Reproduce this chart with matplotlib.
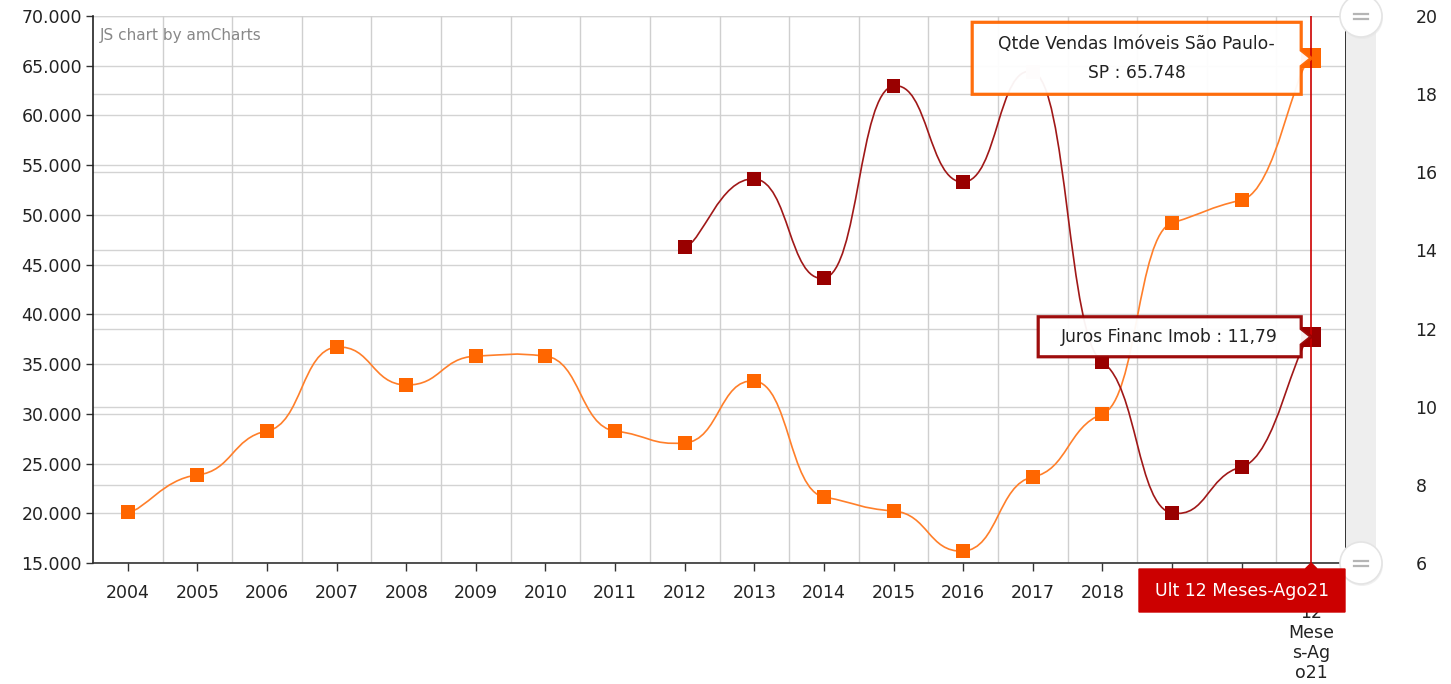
import numpy as np
import matplotlib
matplotlib.use("Agg")
import matplotlib.pyplot as plt
from matplotlib.path import Path
from matplotlib.patches import PathPatch, Polygon, Rectangle, Circle
from matplotlib.transforms import blended_transform_factory

categories = [str(y) for y in range(2004, 2021)] + ["Ult 12 Meses-Ago21"]
cat_labels = [str(y) for y in range(2004, 2021)] + ["Ult\n12\nMese\ns-Ag\no21"]

vendas = [20100, 23850, 28270, 36700, 32900, 35800, 35800, 28270, 27070,
          33300, 21640, 20230, 16200, 23650, 29980, 49190, 51500, 65748]
juros_start = 8  # first year with data: 2012
juros = [14.09, 15.83, 13.29, 18.21, 15.75, 18.57, 11.14, 7.28, 8.46, 11.79]

left_ticks = list(range(15000, 70001, 5000))
right_ticks = list(range(6, 21, 2))

ORANGE = "#FF6600"
ORANGE_LINE = "#FF7F2A"
DARKRED = "#990000"
CURSOR = "#CC0000"
W, H = 1451, 684


def smooth_path(xs, ys, bx=4.0, by=20.0):
    # amCharts-style bezier: wide horizontal handles, short vertical ones
    pts = np.column_stack([xs, ys]).astype(float)
    n = len(pts)
    verts = [pts[0]]
    codes = [Path.MOVETO]
    for i in range(n - 1):
        p0 = pts[max(i - 1, 0)]
        p1 = pts[i]
        p2 = pts[i + 1]
        p3 = pts[min(i + 2, n - 1)]
        c1 = p1 + (p2 - p0) / np.array([bx, by])
        c2 = p2 - (p3 - p1) / np.array([bx, by])
        verts += [c1, c2, p2]
        codes += [Path.CURVE4] * 3
    return Path(verts, codes)


def thousands(v):
    return f"{v:,.0f}".replace(",", ".")


fig = plt.figure(figsize=(W / 100, H / 100), dpi=100)
ax = fig.add_axes([93 / W, 121 / H, 1253 / W, 547 / H])
ax2 = ax.twinx()

n = len(categories)
x = np.arange(n)
ax.set_xlim(-0.5, n - 0.5)
ax.set_ylim(15000, 70000)
ax2.set_ylim(6, 20)

# grids (left, right and category boundaries) all on the lower axes
grid_c = "#D3D3D3"
for v in left_ticks:
    ax.axhline(v, color=grid_c, lw=1, zorder=0)
tr = blended_transform_factory(ax.transAxes, ax2.transData)
for v in right_ticks:
    ax.plot([0, 1], [v, v], transform=tr, color=grid_c, lw=1, zorder=0)
for b in np.arange(-0.5, n, 1.0)[1:]:
    ax.axvline(b, color="#CFCFCF", lw=1, zorder=0)

# orange series
ax.add_patch(PathPatch(smooth_path(x, vendas), fill=False, ec=ORANGE_LINE, lw=1.2, zorder=3))
ax.plot(x[:-1], vendas[:-1], "s", color=ORANGE, ms=10, mew=0, zorder=4)
ax.plot(x[-1:], vendas[-1:], "s", color=ORANGE, ms=15, mew=0, zorder=4)

# dark red series
xj = x[juros_start:]
ax2.add_patch(PathPatch(smooth_path(xj, juros), fill=False, ec="#A01818", lw=1.2, zorder=3))
jcolors = [DARKRED] * len(juros)
jcolors[5] = "#EDCDD2"
ax2.scatter(xj[:-1], juros[:-1], marker="s", s=100, c=jcolors[:-1], lw=0, zorder=4)
ax2.scatter(xj[-1:], juros[-1:], marker="s", s=225, c=DARKRED, lw=0, zorder=4)

# cursor line
ax2.axvline(x[-1], color=CURSOR, lw=1.2, zorder=5)

# axes styling
ax.set_xticks(x)
ax.set_xticklabels(cat_labels, fontsize=12.5, color="#222222", va="top", linespacing=1.15)
ax.set_yticks(left_ticks)
ax.set_yticklabels([thousands(v) for v in left_ticks], fontsize=12.5, color="#222222")
ax.tick_params(axis="x", length=6, width=1, pad=9, color="#333333")
ax.tick_params(axis="y", length=5, width=1, pad=3, color="#333333")
ax2.set_yticks(right_ticks)
ax2.set_yticklabels([str(v) for v in right_ticks], fontsize=12.5, color="#222222")
ax2.tick_params(axis="y", length=0, pad=50)
for s in ["top", "right"]:
    ax.spines[s].set_visible(False)
ax.spines["left"].set_color("#222222")
ax.spines["left"].set_linewidth(1.2)
ax.spines["bottom"].set_color("#333333")
ax.spines["bottom"].set_linewidth(1.2)
for s in ["top", "left", "bottom"]:
    ax2.spines[s].set_visible(False)
ax2.spines["right"].set_color("#111111")
ax2.spines["right"].set_linewidth(1.2)

ax.text(0.0056, 0.978, "JS chart by amCharts", transform=ax.transAxes,
        fontsize=11, color="#888888", va="top", ha="left")


# ---- overlays in figure pixel space ----
def fp(px, py):
    return (px / W, 1 - py / H)


def to_px(axis, xv, yv):
    dx, dy = axis.transData.transform((xv, yv))
    return dx, H - dy


fig.canvas.draw()

# scrollbar
fig.patches.append(Rectangle(fp(1346, 563), 30 / W, 547 / H, transform=fig.transFigure,
                             fc="#EEEEEE", ec="none", zorder=1))
for gy in (16, 563):
    fig.patches.append(Circle((1361 + 1, H - gy - 2), 21, transform=None,
                              fc="#E6E6E6", ec="none", alpha=0.6, zorder=6))
    fig.patches.append(Circle((1361, H - gy), 21, transform=None,
                              fc="white", ec="#E4E4E4", lw=1.2, zorder=6))
    for dy in (-2.5, 2.5):
        fig.lines.append(plt.Line2D([1354 / W, 1368 / W], [1 - (gy + dy) / H] * 2,
                                    transform=fig.transFigure, color="#B5B5B5", lw=1.6, zorder=7))

# balloon for vendas
tx, ty = to_px(ax, x[-1], vendas[-1])
bx0, bx1, by0, by1 = tx - 339, tx - 10, ty - 36, ty + 36
pts = [fp(bx0, by0), fp(bx1, by0), fp(bx1, ty - 8), fp(tx, ty), fp(bx1, ty + 8),
       fp(bx1, by1), fp(bx0, by1)]
fig.patches.append(Polygon(pts, closed=True, transform=fig.transFigure, fc="white",
                           ec=ORANGE, lw=2.3, alpha=0.95, zorder=8))
fig.text(*fp((bx0 + bx1) / 2, ty), f"Qtde Vendas Imóveis São Paulo-\nSP : {thousands(vendas[-1])}",
         ha="center", va="center", fontsize=12.3, color="#222222", linespacing=1.75, zorder=9)

# balloon for juros
tx, ty = to_px(ax2, x[-1], juros[-1])
bx0, bx1, by0, by1 = tx - 273, tx - 10, ty - 20, ty + 20
pts = [fp(bx0, by0), fp(bx1, by0), fp(bx1, ty - 8), fp(tx, ty), fp(bx1, ty + 8),
       fp(bx1, by1), fp(bx0, by1)]
fig.patches.append(Polygon(pts, closed=True, transform=fig.transFigure, fc="white",
                           ec=DARKRED, lw=2.3, alpha=0.95, zorder=8))
fig.text(*fp((bx0 + bx1) / 2, ty), "Juros Financ Imob : " + f"{juros[-1]:.2f}".replace(".", ","),
         ha="center", va="center", fontsize=12.3, color="#222222", zorder=9)

# category balloon
cx, cy = to_px(ax, x[-1], 15000)
pts = [fp(1139, cy + 6), fp(cx - 6, cy + 6), fp(cx, cy), fp(cx + 6, cy + 6),
       fp(1345, cy + 6), fp(1345, cy + 49), fp(1139, cy + 49)]
fig.patches.append(Polygon(pts, closed=True, transform=fig.transFigure, fc=CURSOR,
                           ec=CURSOR, lw=1, zorder=8))
fig.text(*fp(1242, cy + 28), categories[-1], ha="center", va="center",
         fontsize=12.5, color="white", zorder=9)

fig.savefig("out.png", dpi=100)
